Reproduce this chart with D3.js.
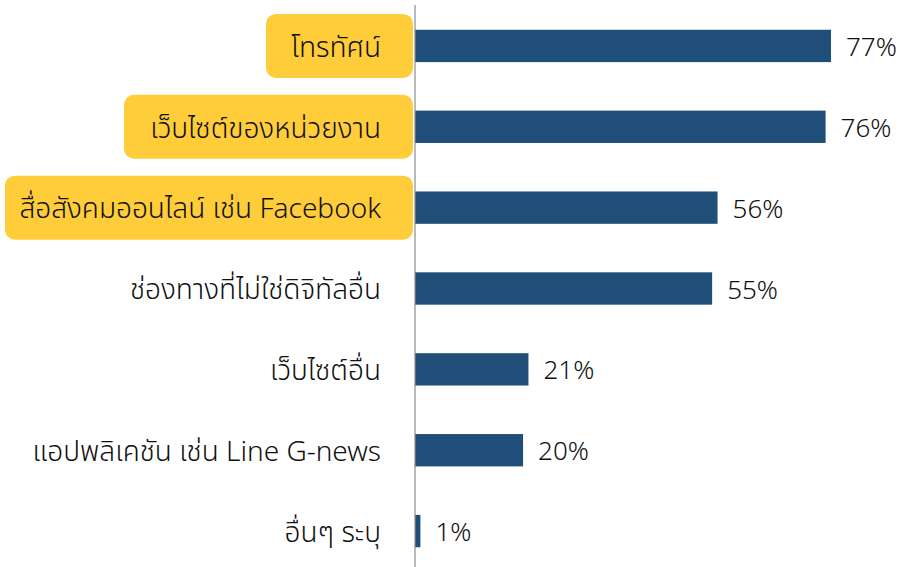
<!DOCTYPE html>
<html>
<head>
<meta charset="utf-8">
<script src="https://cdn.jsdelivr.net/npm/d3@7"></script>
<style>
  html, body { margin: 0; padding: 0; background: #fff; }
  svg text { font-family: "Noto Sans Thai", "Noto Sans", "DejaVu Sans", sans-serif; font-weight: 300; }
</style>
</head>
<body>
<svg id="chart" width="901" height="567"></svg>
<script>
// Channels used to receive information (percent of respondents)
const categories = [
  "โทรทัศน์",
  "เว็บไซต์ของหน่วยงาน",
  "สื่อสังคมออนไลน์ เช่น Facebook",
  "ช่องทางที่ไม่ใช่ดิจิทัลอื่น",
  "เว็บไซต์อื่น",
  "แอปพลิเคชัน เช่น Line G-news",
  "อื่นๆ ระบุ"
];
const values = [77, 76, 56, 55, 21, 20, 1];
const highlighted = ["โทรทัศน์", "เว็บไซต์ของหน่วยงาน", "สื่อสังคมออนไลน์ เช่น Facebook"];

const svg = d3.select("#chart");
const axisX = 415;

const x = d3.scaleLinear().domain([0, 77]).range([axisX, 831]);
const y = d3.scaleBand().domain(categories).range([5.5, 571.5]).paddingInner(0.6).paddingOuter(0.3);

// highlight boxes behind selected labels
const boxLeft = { "โทรทัศน์": 266, "เว็บไซต์ของหน่วยงาน": 124, "สื่อสังคมออนไลน์ เช่น Facebook": 5 };
svg.append("g").selectAll("rect")
  .data(highlighted)
  .join("rect")
  .attr("x", d => boxLeft[d])
  .attr("y", d => y(d) + y.bandwidth() / 2 - 32)
  .attr("width", d => 413 - boxLeft[d])
  .attr("height", 64)
  .attr("rx", 10)
  .attr("fill", "#FFCC3A");

// bars
svg.append("g").selectAll("rect")
  .data(categories)
  .join("rect")
  .attr("x", x(0))
  .attr("y", d => y(d))
  .attr("width", (d, i) => x(values[i]) - x(0))
  .attr("height", y.bandwidth())
  .attr("fill", "#1F4E79");

// category labels
svg.append("g").selectAll("text")
  .data(categories)
  .join("text")
  .attr("x", 381)
  .attr("y", d => y(d) + y.bandwidth() / 2 + 1)
  .attr("dy", "0.35em")
  .attr("text-anchor", "end")
  .attr("font-size", 28)
  .attr("fill", "#111")
  .text(d => d);

// value labels
svg.append("g").selectAll("text")
  .data(categories)
  .join("text")
  .attr("x", (d, i) => x(values[i]) + 15)
  .attr("y", d => y(d) + y.bandwidth() / 2 + 1)
  .attr("dy", "0.35em")
  .attr("font-size", 26)
  .attr("fill", "#111")
  .text((d, i) => values[i] + "%");

// category axis line
svg.append("line")
  .attr("x1", axisX).attr("x2", axisX)
  .attr("y1", 5).attr("y2", 567)
  .attr("stroke", "#8c8c8c")
  .attr("stroke-width", 1.2);
</script>
</body>
</html>
